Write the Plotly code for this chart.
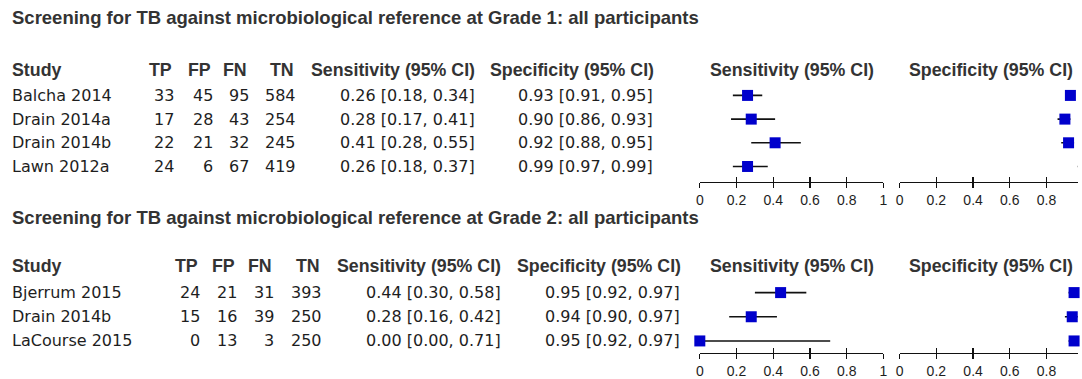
import plotly.graph_objects as go

W, H = 1082, 379

# ---------------- data ----------------
titles = [
    "Screening for TB against microbiological reference at Grade 1: all participants",
    "Screening for TB against microbiological reference at Grade 2: all participants",
]
col_headers = ["Study", "TP", "FP", "FN", "TN", "Sensitivity (95% CI)", "Specificity (95% CI)"]
tick_vals = [0, 0.2, 0.4, 0.6, 0.8, 1]
tick_text = ["0", "0.2", "0.4", "0.6", "0.8", "1"]

g1_study = ["Balcha 2014", "Drain 2014a", "Drain 2014b", "Lawn 2012a"]
g1_tp = [33, 17, 22, 24]
g1_fp = [45, 28, 21, 6]
g1_fn = [95, 43, 32, 67]
g1_tn = [584, 254, 245, 419]
g1_sens = [0.26, 0.28, 0.41, 0.26]
g1_sens_lo = [0.18, 0.17, 0.28, 0.18]
g1_sens_hi = [0.34, 0.41, 0.55, 0.37]
g1_spec = [0.93, 0.90, 0.92, 0.99]
g1_spec_lo = [0.91, 0.86, 0.88, 0.97]
g1_spec_hi = [0.95, 0.93, 0.95, 0.99]

g2_study = ["Bjerrum 2015", "Drain 2014b", "LaCourse 2015"]
g2_tp = [24, 15, 0]
g2_fp = [21, 16, 13]
g2_fn = [31, 39, 3]
g2_tn = [393, 250, 250]
g2_sens = [0.44, 0.28, 0.00]
g2_sens_lo = [0.30, 0.16, 0.00]
g2_sens_hi = [0.58, 0.42, 0.71]
g2_spec = [0.95, 0.94, 0.95]
g2_spec_lo = [0.92, 0.90, 0.92]
g2_spec_hi = [0.97, 0.97, 0.97]

# ---------------- layout helpers ----------------
FONT = "Liberation Sans, Arial, sans-serif"
BODY_FONT = "DejaVu Sans, Verdana, sans-serif"
BODY = 16
BOLD = 17.8
TITLE = 18.5
TXT = "#1e1e1e"
HDR = "#333333"
BLUE = "#0000CC"
SCALE = 185.0  # px per unit on forest axes
SENS_X0 = 701.0
SPEC_X0 = 902.3
LEFT = 7


def px(x):
    return x / W


def py(y):
    return 1 - y / H


fig = go.Figure()
annotations = []


def ann(x, y, text, xanchor="left", yref="paper", bold=False, size=None, color=None):
    annotations.append(dict(
        x=px(x), y=(py(y) if yref == "paper" else y), xref="paper", yref=yref,
        text=("<b>%s</b>" % text) if bold else text,
        showarrow=False, xanchor=xanchor, yanchor="middle", borderpad=0,
        font=dict(family=(FONT if bold else BODY_FONT),
                  size=size or (BOLD if bold else BODY),
                  color=color or (HDR if bold else TXT)),
    ))


groups = [
    dict(study=g1_study, tp=g1_tp, fp=g1_fp, fn=g1_fn, tn=g1_tn,
         sens=g1_sens, slo=g1_sens_lo, shi=g1_sens_hi,
         spec=g1_spec, plo=g1_spec_lo, phi=g1_spec_hi,
         title_y=18, head_y=71, row0=96.7, step=24.0, axis_y=184.0,
         cols=[172, 212, 248, 295, 476, 655]),
    dict(study=g2_study, tp=g2_tp, fp=g2_fp, fn=g2_fn, tn=g2_tn,
         sens=g2_sens, slo=g2_sens_lo, shi=g2_sens_hi,
         spec=g2_spec, plo=g2_spec_lo, phi=g2_spec_hi,
         title_y=220, head_y=270, row0=296.5, step=24.5, axis_y=357.7,
         cols=[198, 236, 273, 321, 502, 682]),
]

layout_axes = {}
for gi, g in enumerate(groups):
    yname = "y" if gi == 0 else "y2"
    ykey = "yaxis" if gi == 0 else "yaxis2"
    n = len(g["study"])
    top_px = g["row0"] - g["step"]
    bot_idx = (g["axis_y"] - g["row0"]) / g["step"]
    layout_axes[ykey] = dict(domain=[py(g["axis_y"]), py(top_px)],
                             range=[bot_idx, -1], visible=False, fixedrange=True)
    rows = list(range(n))

    # titles and headers
    ann(LEFT, g["title_y"], titles[gi], bold=True, size=TITLE)
    c = g["cols"]
    ann(LEFT, g["head_y"], col_headers[0], bold=True)
    for k in range(1, 5):
        ann(c[k - 1] - 2, g["head_y"], col_headers[k], xanchor="right", bold=True)
    ann(c[4], g["head_y"], col_headers[5], xanchor="right", bold=True)
    ann(c[5] + 1, g["head_y"], col_headers[6], xanchor="right", bold=True)
    ann(SENS_X0 + 0.5 * SCALE, g["head_y"], col_headers[5], xanchor="center", bold=True)
    ann(SPEC_X0 + 0.5 * SCALE, g["head_y"], col_headers[6], xanchor="center", bold=True)

    # table rows
    for i in rows:
        ann(LEFT, i, g["study"][i], yref=yname)
        for k, key in enumerate(["tp", "fp", "fn", "tn"]):
            ann(c[k], i, str(g[key][i]), xanchor="right", yref=yname)
        ann(c[4], i, "%.2f [%.2f, %.2f]" % (g["sens"][i], g["slo"][i], g["shi"][i]),
            xanchor="right", yref=yname)
        ann(c[5], i, "%.2f [%.2f, %.2f]" % (g["spec"][i], g["plo"][i], g["phi"][i]),
            xanchor="right", yref=yname)

    # forest axes
    xs = 1 + gi * 2          # sens axis number
    xp = 2 + gi * 2          # spec axis number
    for axn, x0, est, lo, hi in [(xs, SENS_X0, g["sens"], g["slo"], g["shi"]),
                                 (xp, SPEC_X0, g["spec"], g["plo"], g["phi"])]:
        xname = "x" if axn == 1 else "x%d" % axn
        xkey = "xaxis" if axn == 1 else "xaxis%d" % axn
        right_px = min(x0 + SCALE, W)
        layout_axes[xkey] = dict(
            domain=[px(x0), px(right_px)], range=[0, (right_px - x0) / SCALE],
            anchor=yname, showgrid=False, zeroline=False, showline=True,
            linecolor="#111111", linewidth=1.2, ticks="outside", ticklen=5,
            tickwidth=1.2, tickcolor="#111111", tickvals=tick_vals, ticktext=tick_text,
            tickfont=dict(family=FONT, size=14, color=TXT), fixedrange=True,
        )
        # overlay axis for the upper half of the crossing ticks
        on = axn + 4
        okey = "xaxis%d" % on
        layout_axes[okey] = dict(
            overlaying=xname, matches=xname, anchor=yname, showgrid=False,
            zeroline=False, showline=False, ticks="inside", ticklen=5,
            tickwidth=1.2, tickcolor="#111111", tickvals=tick_vals,
            showticklabels=False, fixedrange=True,
        )
        fig.add_trace(go.Scatter(x=[None], y=[None], xaxis="x%d" % on, yaxis=yname,
                                 mode="markers", hoverinfo="skip", showlegend=False))
        fig.add_trace(go.Scatter(
            x=est, y=rows, xaxis=xname, yaxis=yname, mode="markers",
            marker=dict(symbol="square", size=11, color=BLUE, line=dict(width=0)),
            error_x=dict(type="data", symmetric=False,
                         array=[h - e for h, e in zip(hi, est)],
                         arrayminus=[e - l for e, l in zip(est, lo)],
                         color="#111111", thickness=1.6, width=0),
            cliponaxis=False, hoverinfo="skip", showlegend=False,
        ))

fig.update_layout(
    width=W, height=H, autosize=False, margin=dict(l=0, r=0, t=0, b=0),
    paper_bgcolor="white", plot_bgcolor="white", showlegend=False,
    annotations=annotations, **layout_axes,
)

fig.write_html(
    "out.html",
    config={"displayModeBar": False, "staticPlot": True},
    post_script="document.body.style.margin='0';document.body.style.overflow='hidden';",
)
